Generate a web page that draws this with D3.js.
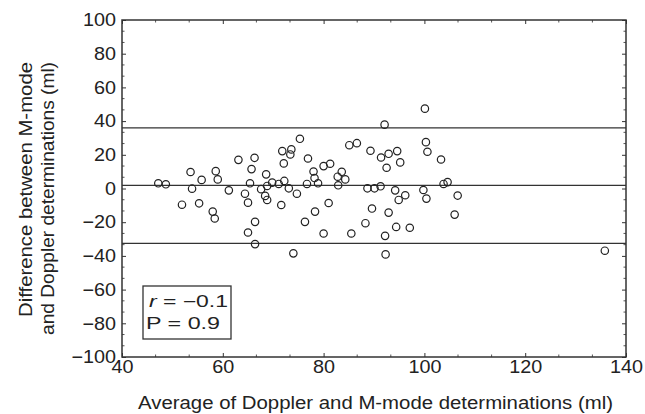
<!DOCTYPE html>
<html>
<head>
<meta charset="utf-8">
<script src="https://cdn.jsdelivr.net/npm/d3@7"></script>
<style>
  body { margin: 0; background: #fff; }
  text { font-family: "Liberation Sans", Arial, sans-serif; fill: #222; }
</style>
</head>
<body>
<div id="chart"></div>
<script>
// Bland-Altman style plot: average vs difference
var avgValues = [47.2, 48.7, 53.6, 53.9, 51.9, 55.8, 55.3, 58.0, 58.4, 58.6, 59.0, 61.2, 63.1, 64.4, 65.0,
  65.4, 65.7, 66.3, 65.0, 66.4, 66.4, 67.6, 68.4, 68.6, 68.8, 68.8, 69.8, 71.1, 71.6, 71.8, 72.1, 72.2,
  73.1, 73.4, 73.6, 75.3, 74.0, 74.7, 76.3, 76.7, 76.9, 78.0, 78.2, 78.3, 78.9, 80.0, 80.0, 81.0, 81.3,
  82.8, 82.9, 83.6, 84.3, 85.1, 85.5, 86.6, 88.3, 88.7, 89.3, 89.6, 90.1, 91.3, 91.4, 92.1, 92.5, 92.2,
  92.3, 92.9, 92.9, 94.2, 94.4, 94.6, 94.9, 95.2, 96.2, 97.1, 99.8, 100.1, 100.3, 100.6, 100.4, 103.3,
  103.8, 104.6, 106.0, 106.6, 135.8];
var diffValues = [3.1, 2.5, 9.8, -0.1, -9.6, 5.1, -8.8, -13.7, -17.8, 10.3, 5.4, -1.1, 17.0, -3.1, -8.4,
  3.1, 11.5, 18.2, -26.1, -19.8, -33.0, -0.4, -4.4, 8.4, 1.5, -6.8, 3.5, 2.7, -9.8, 22.2, 14.9, 4.5,
  0.1, 20.2, 23.2, 29.5, -38.5, -3.1, -19.8, 2.7, 17.8, 10.1, 6.2, -13.7, 3.1, 13.3, -26.7, -8.6, 14.7,
  7.0, 1.9, 9.9, 5.4, 25.7, -26.7, 26.9, -20.6, 0.1, 22.4, -11.9, 0.1, 1.3, 18.4, 37.9, 12.3, -28.1,
  -39.1, 20.6, -14.3, -1.1, -22.8, 22.2, -6.8, 15.5, -4.0, -23.3, -0.9, 47.4, 27.5, 21.8, -6.0, 17.2,
  2.7, 3.8, -15.5, -4.2, -36.9];

// mean difference and limits of agreement
var refLines = [36.0, 1.9, -32.6];

var xTicks = [40, 60, 80, 100, 120, 140];
var yTicks = [100, 80, 60, 40, 20, 0, -20, -40, -60, -80, -100];

var svgWidth = 645;
var svgHeight = 414;

var margin = { top: 20, right: 19, bottom: 57, left: 122 };
var width = svgWidth - margin.left - margin.right;
var height = svgHeight - margin.top - margin.bottom;

// the source figure is a bit wide, so horizontal text gets stretched
var stretch = 1.1;

var svg = d3.select("#chart")
  .append("svg")
  .attr("width", svgWidth)
  .attr("height", svgHeight);

var chartGroup = svg.append("g")
  .attr("transform", `translate(${margin.left}, ${margin.top})`);

var xScale = d3.scaleLinear().domain([40, 140]).range([0, width]);
var yScale = d3.scaleLinear().domain([-100, 100]).range([height, 0]);

// minor ticks at thirds of each major interval
var xMinor = [];
for (var i = 0; i < xTicks.length - 1; i++) {
  xMinor.push(xTicks[i] + 20 / 3, xTicks[i] + 40 / 3);
}
var yMinor = [];
for (var j = 0; j < yTicks.length - 1; j++) {
  yMinor.push(yTicks[j] - 20 / 3, yTicks[j] - 40 / 3);
}

// axes: ticks drawn inward on all four sides
var bottomAxis = d3.axisBottom(xScale).tickValues(xTicks).tickSize(-4).tickPadding(3)
  .tickFormat(d3.format("d"));
var leftAxis = d3.axisLeft(yScale).tickValues(yTicks).tickSize(-4)
  .tickFormat(d => d < 0 ? "\u2212" + Math.abs(d) : d);

var xAxis = chartGroup.append("g")
  .attr("transform", `translate(0, ${height})`)
  .call(bottomAxis);
var yAxis = chartGroup.append("g").call(leftAxis);

[xAxis, yAxis].forEach(function(ax) {
  ax.select(".domain").remove();
  ax.selectAll("line").attr("stroke", "#333");
  ax.selectAll("text").attr("font-size", "18px").attr("fill", "#222")
    .attr("font-family", "Liberation Sans, Arial, sans-serif")
    .attr("transform", `scale(${stretch}, 1)`);
});
yAxis.selectAll("text").attr("x", -6 / stretch);

// top & right ticks
chartGroup.append("g").call(d3.axisTop(xScale).tickValues(xTicks).tickSize(-4).tickFormat(""))
  .call(g => g.select(".domain").remove())
  .selectAll("line").attr("stroke", "#333");
chartGroup.append("g").attr("transform", `translate(${width}, 0)`)
  .call(d3.axisRight(yScale).tickValues(yTicks).tickSize(-4).tickFormat(""))
  .call(g => g.select(".domain").remove())
  .selectAll("line").attr("stroke", "#333");

// minor ticks
var minorGroup = chartGroup.append("g").attr("stroke", "#555").attr("stroke-width", 1);
xMinor.forEach(function(v) {
  minorGroup.append("line").attr("x1", xScale(v)).attr("x2", xScale(v)).attr("y1", height).attr("y2", height - 2.5);
  minorGroup.append("line").attr("x1", xScale(v)).attr("x2", xScale(v)).attr("y1", 0).attr("y2", 2.5);
});
yMinor.forEach(function(v) {
  minorGroup.append("line").attr("y1", yScale(v)).attr("y2", yScale(v)).attr("x1", 0).attr("x2", 2.5);
  minorGroup.append("line").attr("y1", yScale(v)).attr("y2", yScale(v)).attr("x1", width).attr("x2", width - 2.5);
});

// frame
chartGroup.append("rect")
  .attr("x", 0).attr("y", 0)
  .attr("width", width).attr("height", height)
  .attr("fill", "none")
  .attr("stroke", "#333")
  .attr("stroke-width", 1.5);

// reference lines
chartGroup.selectAll(".ref")
  .data(refLines)
  .enter()
  .append("line")
  .attr("class", "ref")
  .attr("x1", 0).attr("x2", width)
  .attr("y1", d => yScale(d)).attr("y2", d => yScale(d))
  .attr("stroke", "#333")
  .attr("stroke-width", 1.3);

// points
var points = avgValues.map((d, k) => ({ x: d, y: diffValues[k] }));
chartGroup.selectAll("circle")
  .data(points)
  .enter()
  .append("circle")
  .attr("cx", d => xScale(d.x))
  .attr("cy", d => yScale(d.y))
  .attr("r", 3.7)
  .attr("fill", "none")
  .attr("stroke", "#222")
  .attr("stroke-width", 1.2);

// stats box
var boxGroup = chartGroup.append("g").attr("transform", "translate(21, 266)");
boxGroup.append("rect")
  .attr("width", 88).attr("height", 53)
  .attr("fill", "#fff")
  .attr("stroke", "#333")
  .attr("stroke-width", 1.3);
var rText = boxGroup.append("text").attr("x", 6).attr("y", 21).attr("font-size", "16px")
  .attr("textLength", 79).attr("lengthAdjust", "spacingAndGlyphs");
rText.append("tspan").attr("font-style", "italic").text("r");
rText.append("tspan").text(" = \u22120.1");
boxGroup.append("text").attr("x", 3).attr("y", 43).attr("font-size", "16px")
  .attr("textLength", 74).attr("lengthAdjust", "spacingAndGlyphs")
  .text("P = 0.9");

// axis titles
svg.append("text")
  .attr("x", 138)
  .attr("y", 409)
  .attr("font-size", "17.5px")
  .attr("textLength", 475).attr("lengthAdjust", "spacingAndGlyphs")
  .text("Average of Doppler and M-mode determinations (ml)");

svg.append("text")
  .attr("transform", "translate(32, 317) rotate(-90)")
  .attr("font-size", "17.5px")
  .attr("textLength", 255).attr("lengthAdjust", "spacingAndGlyphs")
  .text("Difference between M-mode");
svg.append("text")
  .attr("transform", "translate(54, 335) rotate(-90)")
  .attr("font-size", "17.5px")
  .attr("textLength", 273).attr("lengthAdjust", "spacingAndGlyphs")
  .text("and Doppler determinations (ml)");
</script>
</body>
</html>
